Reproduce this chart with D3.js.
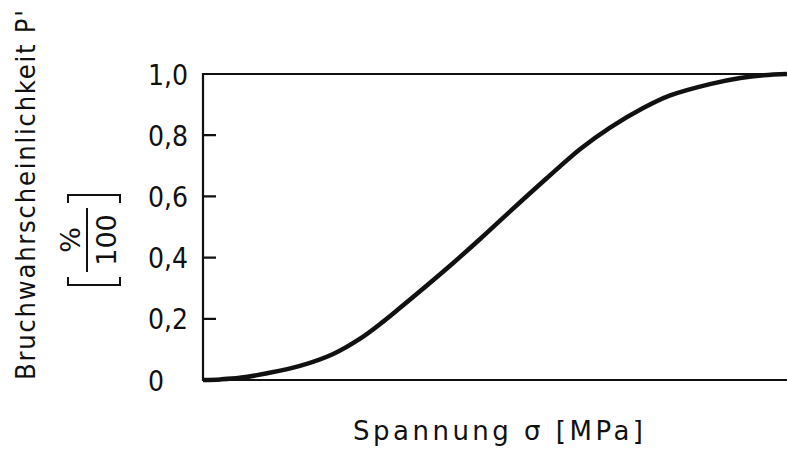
<!DOCTYPE html>
<html>
<head>
<meta charset="utf-8">
<script src="https://cdn.jsdelivr.net/npm/d3@7"></script>
<style>
  body { margin: 0; background: #fff; }
  svg text { font-family: "DejaVu Sans", sans-serif; fill: #111; }
</style>
</head>
<body>
<div id="canvas"></div>
<script>
// stress in arbitrary units (no scale given on the x axis), probability 0..1
var stress = [0, 3, 6.3, 11, 16.6, 22.3, 26.9, 30.8, 33.7, 41.8, 47.4, 53.1, 58.9, 64.6, 69.7, 75.3, 80, 86.8, 92, 96, 100];
var prob   = [0, 0.002, 0.007, 0.022, 0.046, 0.085, 0.135, 0.19, 0.235, 0.365, 0.46, 0.56, 0.66, 0.755, 0.825, 0.888, 0.93, 0.967, 0.987, 0.996, 1.0];
var yTicks = [0, 0.2, 0.4, 0.6, 0.8, 1.0];
var yTickLabels = ["0", "0,2", "0,4", "0,6", "0,8", "1,0"];

var width = 787, height = 451;
var margin = {top: 74, right: 0, bottom: 71, left: 203};

var x = d3.scaleLinear().domain([0, 100]).range([margin.left, width - margin.right]);
var y = d3.scaleLinear().domain([0, 1]).range([height - margin.bottom, margin.top]);

var svg = d3.select("#canvas").append("svg")
    .attr("width", width)
    .attr("height", height);

// frame: left, top and bottom lines (right side runs off the page)
svg.append("path")
    .attr("d", "M" + (width) + "," + y(1) + "H" + x(0) + "V" + y(0) + "H" + width)
    .attr("fill", "none")
    .attr("stroke", "#111")
    .attr("stroke-width", 2.2);

var yAxis = d3.axisLeft(y)
    .tickValues(yTicks)
    .tickSize(0)
    .tickPadding(0)
    .tickFormat(function(d, i) { return yTickLabels[i]; });

var gy = svg.append("g")
    .attr("transform", "translate(" + x(0) + ",0)")
    .call(yAxis);
gy.select(".domain").remove();
gy.selectAll(".tick line").remove();
gy.selectAll(".tick text")
    .attr("x", -55)
    .attr("dy", "0.36em")
    .attr("fill", "#111")
    .style("text-anchor", "start")
    .style("font-family", "'DejaVu Sans Condensed', 'DejaVu Sans', sans-serif")
    .style("font-size", "28px");

// inward tick marks
var inner = yTicks.filter(function(d) { return d > 0 && d < 1; });
svg.append("path")
    .attr("d", inner.map(function(d) {
        return "M" + x(0) + "," + y(d) + "h13";
    }).join(""))
    .attr("fill", "none")
    .attr("stroke", "#111")
    .attr("stroke-width", 2.2);

// curve
var line = d3.line()
    .x(function(d, i) { return x(stress[i]); })
    .y(function(d) { return y(d); })
    .curve(d3.curveCatmullRom.alpha(0.5));

svg.append("path")
    .datum(prob)
    .attr("d", line)
    .attr("fill", "none")
    .attr("stroke", "#111")
    .attr("stroke-width", 4.5);

// x axis title
svg.append("text")
    .attr("x", 353)
    .attr("y", 440)
    .attr("textLength", 290)
    .attr("lengthAdjust", "spacing")
    .style("font-size", "26px")
    .text("Spannung σ [MPa]");

// y axis title
svg.append("text")
    .attr("transform", "translate(35,380) rotate(-90)")
    .attr("textLength", 370)
    .attr("lengthAdjust", "spacing")
    .style("font-family", "'DejaVu Sans Condensed', 'DejaVu Sans', sans-serif")
    .style("font-size", "27px")
    .text("Bruchwahrscheinlichkeit P'");

// unit [%/100]
var unit = svg.append("g")
    .attr("transform", "translate(89,240) rotate(-90)");
unit.append("text")
    .attr("x", 0).attr("y", -9)
    .style("text-anchor", "middle")
    .style("font-size", "27px")
    .text("%");
unit.append("line")
    .attr("x1", -32).attr("x2", 32)
    .attr("y1", -2).attr("y2", -2)
    .attr("stroke", "#111").attr("stroke-width", 2);
unit.append("text")
    .attr("x", 0).attr("y", 27)
    .style("text-anchor", "middle")
    .style("font-size", "27px")
    .text("100");
unit.append("path")
    .attr("d", "M-37,-21H-45V31H-37 M37,-21H45V31H37")
    .attr("fill", "none")
    .attr("stroke", "#111")
    .attr("stroke-width", 2);
</script>
</body>
</html>
